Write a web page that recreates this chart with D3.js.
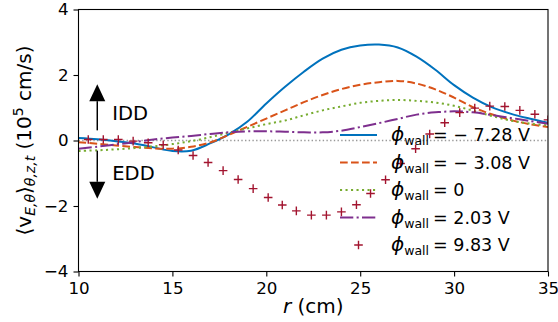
<!DOCTYPE html>
<html>
<head>
<meta charset="utf-8">
<script src="https://cdn.jsdelivr.net/npm/d3@7"></script>
<style>
  body { margin: 0; background: #fff; }
  svg { display: block; font-family: "DejaVu Sans", sans-serif; }
</style>
</head>
<body>
<svg width="558" height="322"></svg>
<script>
// radial grid for the simulated profiles (cm)
var rGrid = [10, 11, 12, 13, 14, 15, 16, 17, 18, 19, 20, 21, 22, 23, 24, 25, 26, 27, 28, 29, 30, 31, 32, 33, 34, 35];

// <v_E,theta> in 1e5 cm/s for each wall potential
var vNeg728 = [0.08, 0.04, -0.02, -0.09, -0.21, -0.32, -0.31, -0.09, 0.19, 0.58, 1.13, 1.64, 2.1, 2.5, 2.77, 2.9, 2.93, 2.84, 2.56, 2.16, 1.69, 1.31, 1.02, 0.82, 0.67, 0.54];
var vNeg308 = [-0.05, -0.1, -0.15, -0.2, -0.24, -0.25, -0.19, -0.06, 0.17, 0.42, 0.67, 0.92, 1.17, 1.39, 1.57, 1.7, 1.78, 1.82, 1.74, 1.56, 1.31, 1.02, 0.8, 0.63, 0.5, 0.41];
var vZero   = [-0.32, -0.3, -0.27, -0.23, -0.18, -0.11, -0.02, 0.1, 0.24, 0.37, 0.5, 0.61, 0.77, 0.92, 1.04, 1.15, 1.21, 1.24, 1.21, 1.16, 1.06, 0.91, 0.75, 0.61, 0.52, 0.46];
var vPos203 = [-0.25, -0.19, -0.12, -0.05, 0.03, 0.09, 0.14, 0.2, 0.25, 0.28, 0.28, 0.27, 0.25, 0.25, 0.3, 0.41, 0.53, 0.66, 0.79, 0.86, 0.89, 0.86, 0.78, 0.69, 0.6, 0.51];

// the 9.83 V case is drawn as markers only
var rMarkers = [10.52, 11.32, 12.12, 12.91, 13.71, 14.51, 15.31, 16.1, 16.9, 17.7, 18.5, 19.3, 20.1, 20.85, 21.6, 22.4, 23.2, 24.0, 24.8, 25.55, 26.35, 27.15, 27.95, 28.7, 29.5, 30.3, 31.1, 31.9, 32.7, 33.5, 34.3, 35.0];
var vPos983  = [0.03, 0.03, 0.03, -0.02, -0.07, -0.13, -0.29, -0.46, -0.67, -0.92, -1.19, -1.47, -1.74, -1.97, -2.15, -2.28, -2.28, -2.18, -1.96, -1.62, -1.2, -0.7, -0.25, 0.2, 0.54, 0.85, 0.99, 1.05, 1.04, 0.92, 0.8, 0.63];

var seriesLabels = ["= \u2212 7.28 V", "= \u2212 3.08 V", "= 0", "= 2.03 V", "= 9.83 V"];
var xTicks = [10, 15, 20, 25, 30, 35];
var yTicks = [-4, -2, 0, 2, 4];

var svg = d3.select("svg"),
    margin = {top: 9.5, right: 10, bottom: 50.5, left: 78.5},
    width = 558 - margin.left - margin.right,
    height = 322 - margin.top - margin.bottom,
    g = svg.append("g").attr("transform", "translate(" + margin.left + "," + margin.top + ")");

var x = d3.scaleLinear().domain([10, 35]).range([0, width]),
    y = d3.scaleLinear().domain([-4, 4]).range([height, 0]);

g.append("clipPath").attr("id", "plot-clip")
  .append("rect").attr("width", width).attr("height", height);

var lines = [
  {values: vNeg728, color: "#0072BD", dash: null},
  {values: vNeg308, color: "#D95319", dash: "7.7,3.3"},
  {values: vZero,   color: "#77AC30", dash: "2.1,3.4"},
  {values: vPos203, color: "#7E2F8E", dash: "13.3,3.3,2.1,3.3"}
];
var markerColor = "#A2142F";

var line = d3.line()
    .curve(d3.curveCatmullRom.alpha(0.5))
    .x(function(d) { return x(d[0]); })
    .y(function(d) { return y(d[1]); });

var plot = g.append("g").attr("clip-path", "url(#plot-clip)");

// zero reference
plot.append("path")
    .attr("d", d3.line()([[x(10), y(0)], [x(35), y(0)]]))
    .style("stroke", "#999")
    .style("stroke-width", 1.4)
    .style("stroke-dasharray", "1.4,2.3")
    .style("fill", "none");

lines.forEach(function(s) {
  plot.append("path")
      .attr("d", line(rGrid.map(function(r, i) { return [r, s.values[i]]; })))
      .style("fill", "none")
      .style("stroke", s.color)
      .style("stroke-width", 2)
      .style("stroke-dasharray", s.dash);
});

function plus(sel, size) {
  sel.append("path")
      .attr("d", "M" + (-size) + ",0H" + size + "M0," + (-size) + "V" + size)
      .style("stroke", markerColor)
      .style("stroke-width", 1.4)
      .style("fill", "none");
}

plot.selectAll(".mk")
    .data(rMarkers.map(function(r, i) { return [r, vPos983[i]]; }))
  .enter().append("g")
    .attr("class", "mk")
    .attr("transform", function(d) { return "translate(" + x(d[0]) + "," + y(d[1]) + ")"; })
    .call(plus, 4.3);

// axes
var xAxis = g.append("g")
    .attr("transform", "translate(0," + height + ")")
    .call(d3.axisBottom(x).tickValues(xTicks).tickSize(5).tickPadding(6).tickSizeOuter(0));
var yAxis = g.append("g")
    .call(d3.axisLeft(y).tickValues(yTicks).tickSize(5).tickPadding(5).tickSizeOuter(0)
      .tickFormat(function(d) { return d < 0 ? "\u2212" + Math.abs(d) : d; }));

[xAxis, yAxis].forEach(function(a) {
  a.select(".domain").remove();
  a.selectAll("line").style("stroke", "#000").style("stroke-width", 1.1);
  a.selectAll("text").style("font-size", "16.7px").style("fill", "#000")
    .style("font-family", "DejaVu Sans");
});

g.append("rect")
    .attr("width", width).attr("height", height)
    .style("fill", "none").style("stroke", "#000").style("stroke-width", 1.1);

// axis labels
var xl = svg.append("text")
    .attr("x", margin.left + width / 2)
    .attr("y", 313)
    .attr("text-anchor", "middle")
    .style("font-size", "20px");
xl.append("tspan").style("font-style", "italic").text("r");
xl.append("tspan").text(" (cm)");

var yl = svg.append("text")
    .attr("transform", "translate(31," + (margin.top + height / 2) + ") rotate(-90)")
    .attr("text-anchor", "middle")
    .style("font-size", "20px");
yl.append("tspan").text("\u27e8v");
yl.append("tspan").attr("dy", 4).style("font-size", "14px").style("font-style", "italic").text("E,\u03b8");
yl.append("tspan").attr("dy", -4).text("\u27e9");
yl.append("tspan").attr("dy", 4).style("font-size", "14px").style("font-style", "italic").text("\u03b8,z,t");
yl.append("tspan").attr("dy", -4).text(" (10");
yl.append("tspan").attr("dy", -8).style("font-size", "14px").text("5");
yl.append("tspan").attr("dy", 8).text(" cm/s)");

// IDD / EDD annotation
var arrowR = 11, textR = 11.8;
var arrows = [{from: 0.31, to: 1.72}, {from: -0.31, to: -1.78}];
arrows.forEach(function(a) {
  var ax = x(arrowR), y0 = y(a.from), y1 = y(a.to),
      dir = y1 < y0 ? 1 : -1, head = 17, half = 8;
  g.append("path")
      .attr("d", "M" + ax + "," + y0 + "V" + (y1 + dir * head))
      .style("stroke", "#000").style("stroke-width", 1.5);
  g.append("path")
      .attr("d", "M" + ax + "," + y1 + "L" + (ax - half) + "," + (y1 + dir * head) +
                 "L" + (ax + half) + "," + (y1 + dir * head) + "Z")
      .style("fill", "#000");
});
g.append("text").attr("x", x(textR)).attr("y", y(0.63)).style("font-size", "19.5px").text("IDD");
g.append("text").attr("x", x(textR)).attr("y", y(-1.2)).style("font-size", "19.5px").text("EDD");

// legend (no frame)
var legend = svg.append("g").attr("transform", "translate(340,135)");
seriesLabels.forEach(function(lbl, i) {
  var row = legend.append("g").attr("transform", "translate(0," + (i * 27.5) + ")");
  if (i < lines.length) {
    row.append("line")
        .attr("x1", 0).attr("x2", 37)
        .style("stroke", lines[i].color)
        .style("stroke-width", 2)
        .style("stroke-dasharray", lines[i].dash);
  } else {
    row.append("g").attr("transform", "translate(18.5,0)").call(plus, 4.3);
  }
  var t = row.append("text").attr("x", 51).attr("y", 6).style("font-size", "17.5px");
  t.append("tspan").style("font-style", "italic").style("font-size", "20px").text("\u03d5");
  t.append("tspan").attr("dy", 4).style("font-size", "12.5px").text("wall");
  t.append("tspan").attr("dy", -4).attr("dx", 4).text(lbl);
});
</script>
</body>
</html>
